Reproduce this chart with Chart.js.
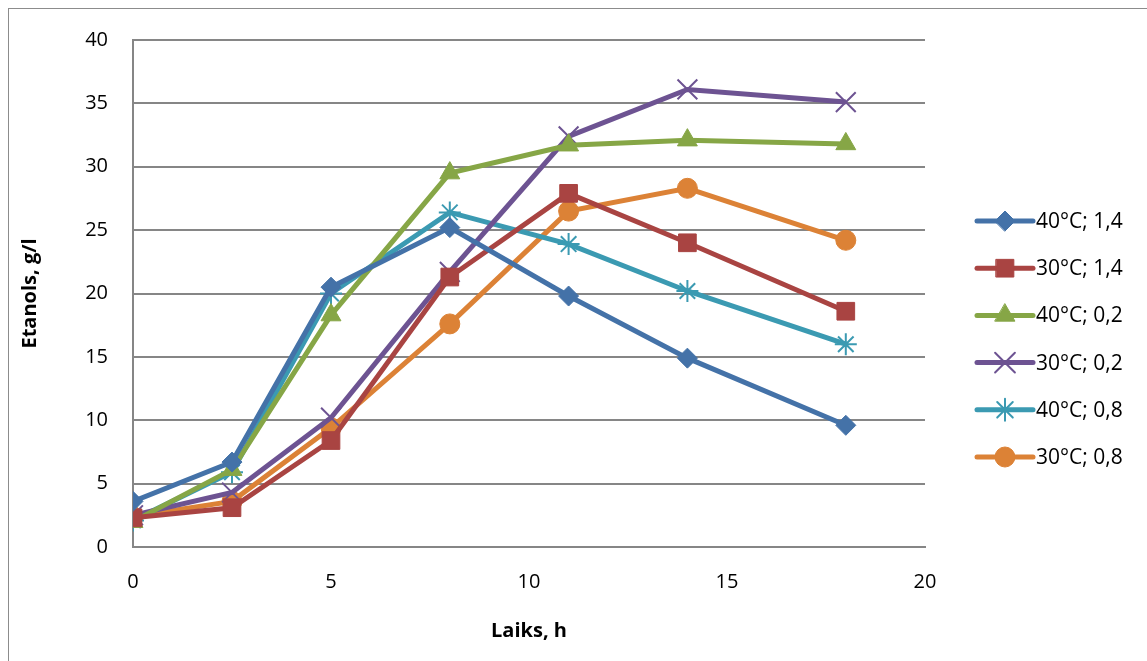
<!DOCTYPE html>
<html>
<head>
<meta charset="utf-8">
<script src="https://cdn.jsdelivr.net/npm/chart.js@4.4.1/dist/chart.umd.min.js"></script>
<style>
  html, body { margin: 0; padding: 0; background: #fff; }
  #wrap { width: 1147px; height: 661px; position: relative; }
</style>
</head>
<body>
<div id="wrap"><canvas id="c" width="1147" height="661"></canvas></div>
<script>
// Time points (h)
const hours = [0, 2.5, 5, 8, 11, 14, 18];

// Ethanol, g/l for each condition
const s40_14 = [3.6, 6.7, 20.5, 25.2, 19.8, 14.9, 9.6];
const s30_14 = [2.3, 3.1, 8.4, 21.3, 27.9, 24.0, 18.6];
const s40_02 = [2.0, 6.1, 18.3, 29.5, 31.7, 32.1, 31.8];
const s30_02 = [2.5, 4.3, 10.2, 21.7, 32.4, 36.1, 35.1];
const s40_08 = [2.1, 5.9, 20.0, 26.4, 23.9, 20.2, 16.0];
const s30_08 = [2.4, 3.6, 9.4, 17.6, 26.5, 28.3, 24.2];

const seriesLabels = ['40°C; 1,4', '30°C; 1,4', '40°C; 0,2', '30°C; 0,2', '40°C; 0,8', '30°C; 0,8'];
const seriesValues = [s40_14, s30_14, s40_02, s30_02, s40_08, s30_08];
const seriesColors = ['#4472a8', '#a94442', '#86a646', '#6d5392', '#3b9ab2', '#dc8236'];
const seriesMarkers = ['rectRot', 'rect', 'triangle', 'crossRot', 'star', 'circle'];
const markerSizes = [10, 12.5, 11.5, 14, 11, 10];

const FONT = '"Open Sans", "Noto Sans", sans-serif';

const datasets = seriesValues.map((vals, i) => ({
    label: seriesLabels[i],
    data: vals.map((v, k) => ({ x: hours[k], y: v })),
    borderColor: seriesColors[i],
    backgroundColor: seriesColors[i],
    borderWidth: 5,
    pointStyle: seriesMarkers[i],
    pointRadius: markerSizes[i],
    pointBorderWidth: (seriesMarkers[i] === 'crossRot' || seriesMarkers[i] === 'star') ? 2 : 1,
    pointBorderColor: seriesColors[i],
    pointBackgroundColor: seriesColors[i],
    tension: 0,
    fill: false
}));

// Outer chart border (only left/top visible in the reference)
const frame = {
    id: 'frame',
    beforeDraw(chart) {
        const ctx = chart.ctx;
        ctx.save();
        ctx.strokeStyle = '#8c8c8c';
        ctx.lineWidth = 1;
        ctx.strokeRect(8.5, 8.5, 1200, 700);
        ctx.restore();
    }
};

// Legend with a line through the marker, like the original
const lineLegend = {
    id: 'lineLegend',
    afterDraw(chart) {
        const ctx = chart.ctx;
        const x0 = 977, x1 = 1033, top = 221, step = 47.2;
        ctx.save();
        chart.data.datasets.forEach((ds, i) => {
            const y = top + i * step;
            ctx.strokeStyle = ds.borderColor;
            ctx.lineWidth = 5;
            ctx.lineCap = 'round';
            ctx.beginPath();
            ctx.moveTo(x0, y);
            ctx.lineTo(x1, y);
            ctx.stroke();
            ctx.fillStyle = ds.backgroundColor;
            ctx.strokeStyle = ds.borderColor;
            ctx.lineWidth = ds.pointBorderWidth;
            Chart.helpers.drawPoint(ctx, {
                pointStyle: ds.pointStyle,
                radius: ds.pointRadius,
                rotation: 0,
                borderWidth: ds.pointBorderWidth
            }, (x0 + x1) / 2, y);
            ctx.fillStyle = '#000';
            ctx.font = '21px ' + FONT;
            ctx.textAlign = 'left';
            ctx.textBaseline = 'middle';
            ctx.fillText(ds.label, x1 + 3, y + 1);
        });
        ctx.restore();
    }
};

new Chart(document.getElementById('c'), {
    type: 'line',
    data: { datasets },
    options: {
        responsive: false,
        animation: false,
        layout: { padding: { left: 14, right: 222, top: 40, bottom: 14 } },
        plugins: {
            legend: { display: false },
            tooltip: { enabled: false }
        },
        scales: {
            x: {
                type: 'linear',
                min: 0,
                max: 20,
                ticks: { stepSize: 5, color: '#000', font: { family: FONT, size: 20 }, padding: 23 },
                grid: { display: false, drawTicks: false },
                border: { display: true, color: '#868686', width: 2 },
                title: { display: true, text: 'Laiks, h', color: '#000', font: { family: FONT, size: 20, weight: 'bold' }, padding: { top: 0 } },
                afterFit(scale) { scale.height = 661 - 547 - 14; }
            },
            y: {
                min: 0,
                max: 40,
                ticks: { stepSize: 5, color: '#000', font: { family: FONT, size: 20 }, padding: 25 },
                grid: { color: '#868686', lineWidth: 2, drawTicks: false },
                border: { display: true, color: '#868686', width: 2 },
                title: { display: true, text: 'Etanols, g/l', color: '#000', font: { family: FONT, size: 20, weight: 'bold' } },
                afterFit(scale) { scale.width = 133 - 14; }
            }
        }
    },
    plugins: [frame, lineLegend]
});
</script>
</body>
</html>
